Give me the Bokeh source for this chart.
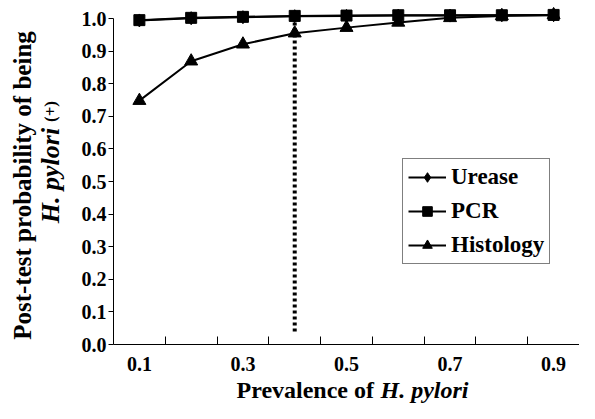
from math import pi
from bokeh.plotting import figure
from bokeh.layouts import row, column
from bokeh.models import (Range1d, FixedTicker, PrintfTickFormatter, Label,
                          Legend, LegendItem)
from bokeh.embed import file_html
from bokeh.resources import INLINE

# ---- data ----
prevalence = [0.1, 0.2, 0.3, 0.4, 0.5, 0.6, 0.7, 0.8, 0.9]
urease = [0.994, 1.001, 1.004, 1.007, 1.008, 1.009, 1.009, 1.010, 1.010]
pcr = [0.995, 1.002, 1.005, 1.008, 1.009, 1.010, 1.010, 1.010, 1.011]
histology = [0.748, 0.869, 0.921, 0.955, 0.972, 0.988, 1.002, 1.008, 1.011]
x_tick_values = [0.1, 0.3, 0.5, 0.7, 0.9]
x_boundaries = [0.15, 0.25, 0.35, 0.45, 0.55, 0.65, 0.75, 0.85]
y_tick_values = [0.0, 0.1, 0.2, 0.3, 0.4, 0.5, 0.6, 0.7, 0.8, 0.9, 1.0]
cutoff_prevalence = 0.4
cutoff_low, cutoff_high = 0.04, 1.0

FONT = "Liberation Serif"
TOTAL_W, TOTAL_H = 579, 403
LEFT_W = 66                 # column for the y-axis title
MAIN_W = TOTAL_W - LEFT_W
MAIN_H = 376
BOTTOM_H = TOTAL_H - MAIN_H  # row for the x-axis title
BL = 113 - LEFT_W            # left border of main plot
AXIS_Y = 344
BB = MAIN_H - AXIS_Y         # bottom border of main plot
PX_PER_UNIT = 326.0
Y_END = AXIS_Y / PX_PER_UNIT

p = figure(width=MAIN_W, height=MAIN_H, output_backend="svg",
           toolbar_location=None,
           x_range=Range1d(0.05, 0.95), y_range=Range1d(0, Y_END),
           min_border_left=BL, min_border_right=0, min_border_top=0,
           min_border_bottom=BB)
p.outline_line_color = None
p.xgrid.visible = False
p.ygrid.visible = False

# dashed cut-off line
p.segment(x0=[cutoff_prevalence], y0=[cutoff_low], x1=[cutoff_prevalence],
          y1=[cutoff_high], line_color="black", line_width=4, line_dash="3 3")

l1 = p.line(prevalence, urease, line_color="black", line_width=2)
s1 = p.scatter(prevalence, urease, marker="diamond", size=13, color="black")
l2 = p.line(prevalence, pcr, line_color="black", line_width=2)
s2 = p.scatter(prevalence, pcr, marker="square", size=11, color="black")
l3 = p.line(prevalence, histology, line_color="black", line_width=2)
s3 = p.scatter(prevalence, histology, marker="triangle", size=13, color="black")

# axes
xa = p.xaxis[0]
xa.ticker = FixedTicker(ticks=x_tick_values, minor_ticks=x_boundaries)
xa.formatter = PrintfTickFormatter(format="%.1f")
xa.major_tick_line_color = None
xa.minor_tick_in = 8
xa.minor_tick_out = 0
xa.minor_tick_line_color = "black"
xa.major_label_standoff = 6
xa.major_label_text_font = FONT
xa.major_label_text_font_style = "bold"
xa.major_label_text_font_size = "20px"
xa.major_label_text_color = "black"
xa.axis_line_color = "black"

ya = p.yaxis[0]
ya.ticker = FixedTicker(ticks=y_tick_values)
ya.formatter = PrintfTickFormatter(format="%.1f")
ya.bounds = (0, 1)
ya.major_tick_in = 0
ya.major_tick_out = 5
ya.minor_tick_line_color = None
ya.major_label_standoff = 2
ya.major_label_text_font = FONT
ya.major_label_text_font_style = "bold"
ya.major_label_text_font_size = "20px"
ya.major_label_text_color = "black"
ya.axis_line_color = "black"

# legend
legend = Legend(items=[LegendItem(label="Urease", renderers=[l1, s1]),
                       LegendItem(label="PCR", renderers=[l2, s2]),
                       LegendItem(label="Histology", renderers=[l3, s3])],
                location=(289, 80))
legend.border_line_color = "black"
legend.border_line_width = 1
legend.background_fill_color = "white"
legend.background_fill_alpha = 1
legend.label_text_font = FONT
legend.label_text_font_style = "bold"
legend.label_text_font_size = "23px"
legend.label_text_color = "black"
legend.glyph_width = 38
legend.glyph_height = 24
legend.label_height = 24
legend.label_standoff = 5
legend.padding = 5
legend.spacing = 8
legend.margin = 0
p.add_layout(legend)


def blank(w, h, xr, yr, **kw):
    f = figure(width=w, height=h, output_backend="svg", toolbar_location=None,
               x_range=xr, y_range=yr, x_axis_type=None, y_axis_type=None,
               **kw)
    f.outline_line_color = None
    f.xgrid.visible = False
    f.ygrid.visible = False
    return f


common = dict(text_font=FONT, text_color="black")

# y-axis title column: frame spans canvas y 0..AXIS_Y, data y = AXIS_Y - canvas y
left = blank(LEFT_W, MAIN_H, Range1d(0, LEFT_W), Range1d(0, AXIS_Y),
             min_border_left=0, min_border_right=0, min_border_top=0,
             min_border_bottom=BB)
left.add_layout(Label(x=22, y=AXIS_Y - 185, text="Post-test probability of being",
                      angle=pi / 2, text_font_style="bold", text_font_size="25px",
                      text_align="center", text_baseline="middle", **common))
left.add_layout(Label(x=50, y=AXIS_Y - 175, text="H. pylori",
                      angle=pi / 2, text_font_style="bold italic",
                      text_font_size="26px", text_align="center",
                      text_baseline="middle", **common))
left.add_layout(Label(x=50, y=AXIS_Y - 111, text="(+)",
                      angle=pi / 2, text_font_style="bold", text_font_size="17px",
                      text_align="center", text_baseline="middle", **common))

# x-axis title row spanning the full width (data y = TOTAL_H - canvas y)
bottom = blank(TOTAL_W, BOTTOM_H, Range1d(0, TOTAL_W), Range1d(0, BOTTOM_H),
               min_border=0)
bottom.add_layout(Label(x=236, y=TOTAL_H - 389, text="Prevalence of",
                        text_font_style="bold", text_font_size="24px",
                        text_align="left", text_baseline="middle", **common))
bottom.add_layout(Label(x=380, y=TOTAL_H - 389, text="H. pylori",
                        text_font_style="bold italic", text_font_size="24px",
                        text_align="left", text_baseline="middle", **common))

layout = column(row(left, p, spacing=0), bottom, spacing=0)
open("out.html", "w").write(file_html(layout, INLINE))
